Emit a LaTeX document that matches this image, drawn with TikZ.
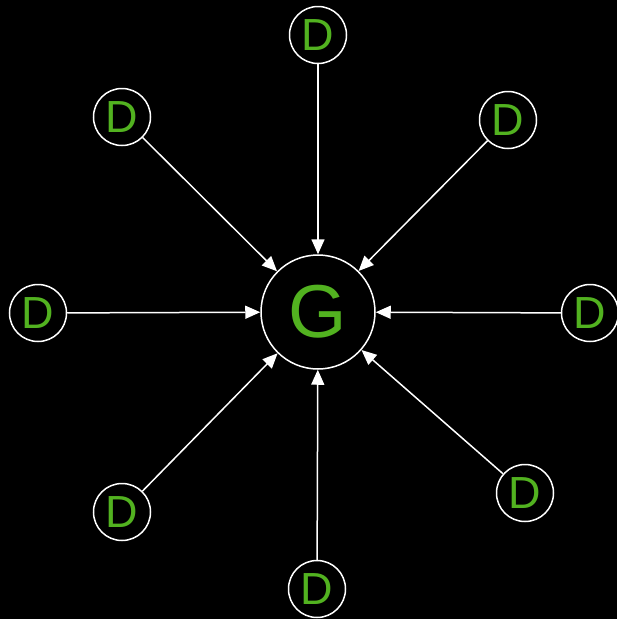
\documentclass[tikz,border=0pt]{standalone}
\usepackage{fontspec}
\setmainfont{Liberation Sans}
\usetikzlibrary{arrows.meta}
\definecolor{dgreen}{RGB}{82,178,32}
\tikzset{gan/.style={x=1pt,y=-1pt},
  disc/.style={circle,draw=white,line width=1.5pt,fill=black,text=dgreen,
    minimum size=57pt,inner sep=0pt,font=\fontsize{45}{45}\selectfont},
  gen/.style={disc,minimum size=114pt,font=\fontsize{75}{75}\selectfont},
  feed/.style={draw=white,line width=1.5pt,-{Triangle[length=15pt,width=13pt]}}}

\begin{document}
\begin{tikzpicture}[gan]
    \useasboundingbox (0,0) rectangle (617,619);
    \fill[black] (0,0) rectangle (617,619);
    \node[gen] (g) at (318,312) {G};
    \foreach \name/\x/\y in {t/318/35, tl/122/117, tr/508/120, l/38/313,
                             r/590/313, bl/122/512, br/525/493, b/317/589}
      \node[disc] (d\name) at (\x,\y) {D};
    \foreach \name in {t,tl,tr,l,r,bl,br,b}
      \draw[feed] (d\name) -- (g);
  \end{tikzpicture}
\end{document}
